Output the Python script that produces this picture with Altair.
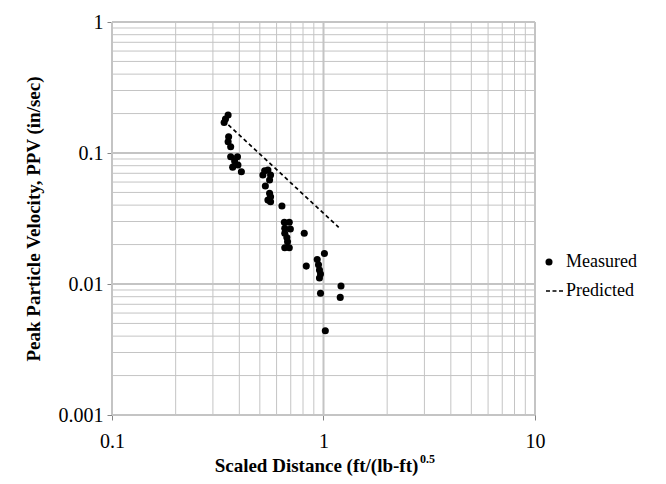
import altair as alt
import pandas as pd

sd_measured = [0.354, 0.344, 0.339, 0.356, 0.354, 0.364, 0.364, 0.392, 0.380, 0.394, 0.372, 0.409,
               0.527, 0.546, 0.517, 0.562, 0.556, 0.531, 0.562, 0.556, 0.546, 0.562, 0.636,
               0.653, 0.689, 0.656, 0.697, 0.656, 0.671, 0.676, 0.656, 0.689, 0.811,
               1.01, 0.934, 0.947, 0.957, 0.968, 0.957, 0.829, 1.21, 0.968, 1.20, 1.02]
ppv_measured = [0.195, 0.182, 0.171, 0.133, 0.122, 0.1117, 0.0937, 0.0937, 0.0869, 0.081, 0.078, 0.072,
                0.0733, 0.0741, 0.068, 0.068, 0.0622, 0.056, 0.0464, 0.0492, 0.0437, 0.0425, 0.0394,
                0.0296, 0.0296, 0.0266, 0.0263, 0.0244, 0.0226, 0.021, 0.0189, 0.0189, 0.0244,
                0.0171, 0.0154, 0.014, 0.0128, 0.0119, 0.0111, 0.0137, 0.00966, 0.0085, 0.0079, 0.0044]

# Predicted line
sd_predicted = [0.355, 1.18]
ppv_predicted = [0.164, 0.0271]

series_names = ["Measured", "Predicted"]

x_major = [0.1, 1, 10]
x_minor = [0.2, 0.3, 0.4, 0.5, 0.6, 0.7, 0.8, 0.9, 2, 3, 4, 5, 6, 7, 8, 9]
y_major = [0.001, 0.01, 0.1, 1]
y_minor = [0.002, 0.003, 0.004, 0.005, 0.006, 0.007, 0.008, 0.009,
           0.02, 0.03, 0.04, 0.05, 0.06, 0.07, 0.08, 0.09,
           0.2, 0.3, 0.4, 0.5, 0.6, 0.7, 0.8, 0.9]

x_title = "Scaled Distance (ft/(lb-ft)"
x_title_sup = "0.5"
y_title = "Peak Particle Velocity, PPV (in/sec)"

FONT = "Liberation Serif"
GRID = "#c4c4c4"
AXIS = "#868686"
W, H = 423, 393

xscale = alt.Scale(type="log", domain=[0.1, 10])
yscale = alt.Scale(type="log", domain=[0.001, 1])
xaxis = alt.Axis(values=x_major, format="~g", title=x_title, labelFlush=False,
                 labelPadding=11, titlePadding=5, titleX=W / 2 - 7.5, titleFontSize=19)
yaxis = alt.Axis(values=y_major, format="~g", title=y_title, labelFlush=False,
                 labelPadding=4, titlePadding=15, titleFontSize=19)

measured = pd.DataFrame({"sd": sd_measured, "ppv": ppv_measured, "series": "Measured"})
predicted = pd.DataFrame({"sd": sd_predicted, "ppv": ppv_predicted})

vminor = alt.Chart(pd.DataFrame({"v": x_minor})).mark_rule(color=GRID, strokeWidth=1).encode(
    x=alt.X("v:Q", scale=xscale, axis=xaxis))
vmajor = alt.Chart(pd.DataFrame({"v": x_major})).mark_rule(color=GRID, strokeWidth=2).encode(
    x=alt.X("v:Q", scale=xscale, axis=xaxis))
hminor = alt.Chart(pd.DataFrame({"v": y_minor})).mark_rule(color=GRID, strokeWidth=1).encode(
    y=alt.Y("v:Q", scale=yscale, axis=yaxis))
hmajor = alt.Chart(pd.DataFrame({"v": y_major})).mark_rule(color=GRID, strokeWidth=2).encode(
    y=alt.Y("v:Q", scale=yscale, axis=yaxis))

line = alt.Chart(predicted).mark_line(color="black", strokeWidth=1.7, strokeDash=[4, 3]).encode(
    x=alt.X("sd:Q", scale=xscale, axis=xaxis),
    y=alt.Y("ppv:Q", scale=yscale, axis=yaxis),
)

dash_path = ("M-0.85,-0.21H0.28V0.21H-0.85Z "
             "M0.99,-0.21H2.12V0.21H0.99Z "
             "M2.83,-0.21H3.96V0.21H2.83Z")

points = alt.Chart(measured).mark_point(filled=True, color="black", size=50, opacity=1).encode(
    x=alt.X("sd:Q", scale=xscale, axis=xaxis),
    y=alt.Y("ppv:Q", scale=yscale, axis=yaxis),
    shape=alt.Shape("series:N",
                    scale=alt.Scale(domain=series_names, range=["circle", dash_path]),
                    legend=alt.Legend(title=None, orient="none", legendX=428, legendY=231,
                                      symbolSize=50, symbolFillColor="black", symbolStrokeWidth=0,
                                      symbolOpacity=1, labelOffset=8, rowPadding=11,
                                      labelFont=FONT, labelFontSize=18, labelColor="black",
                                      padding=0)),
)

# superscript exponent of the x-axis title
sup = alt.Chart(pd.DataFrame({"t": [x_title_sup]})).mark_text(
    font=FONT, fontSize=12, fontWeight="bold", color="black", align="left", baseline="middle"
).encode(text="t:N", x=alt.value(308), y=alt.value(H + 44))

chart = alt.layer(vminor, hminor, vmajor, hmajor, line, points, sup).properties(
    width=W, height=H,
    padding={"left": 104, "top": 14, "right": 118, "bottom": 61},
    autosize=alt.AutoSizeParams(type="none"),
).configure_view(strokeWidth=0).configure_axis(
    grid=False, domainColor=AXIS, tickColor=AXIS, tickSize=5,
    labelFont=FONT, labelFontSize=20, labelColor="black",
    titleFont=FONT, titleFontWeight="bold", titleColor="black",
)

chart.save("out.html", embed_options={"renderer": "svg", "actions": False})
